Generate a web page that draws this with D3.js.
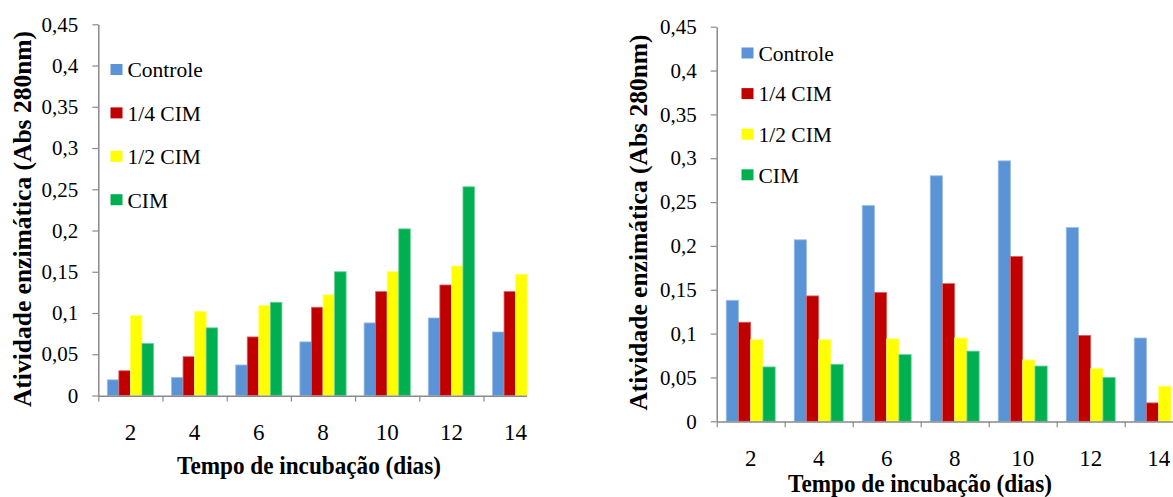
<!DOCTYPE html>
<html>
<head>
<meta charset="utf-8">
<script src="https://cdn.jsdelivr.net/npm/d3@7"></script>
<style>
  html, body { margin: 0; padding: 0; background: #fff; }
  svg { display: block; }
  svg text { font-family: "Liberation Serif", Tinos, "Times New Roman", Times, "DejaVu Serif", "Noto Serif", serif !important; fill: #000; }
</style>
</head>
<body>
<svg id="chart" width="1173" height="497"></svg>
<script>
// ---- Data ----
const categories = ["2", "4", "6", "8", "10", "12", "14"];
const seriesNames = ["Controle", "1/4 CIM", "1/2 CIM", "CIM"];
const seriesColors = ["#5B94D6", "#C00000", "#FFFF00", "#00B050"];
const yTickValues = [0, 0.05, 0.1, 0.15, 0.2, 0.25, 0.3, 0.35, 0.4, 0.45];

// Left chart
const leftControle = [0.019, 0.022, 0.037, 0.065, 0.088, 0.094, 0.077];
const leftQuarter  = [0.030, 0.047, 0.071, 0.107, 0.126, 0.134, 0.126];
const leftHalf     = [0.097, 0.102, 0.109, 0.122, 0.150, 0.157, 0.147];
const leftCIM      = [0.063, 0.082, 0.113, 0.150, 0.202, 0.253, null];

// Right chart
const rightControle = [0.138, 0.207, 0.246, 0.280, 0.297, 0.221, 0.095];
const rightQuarter  = [0.113, 0.143, 0.147, 0.157, 0.188, 0.098, 0.021];
const rightHalf     = [0.093, 0.093, 0.094, 0.095, 0.070, 0.060, 0.040];
const rightCIM      = [0.062, 0.065, 0.076, 0.080, 0.063, 0.050, null];

const xTitle = "Tempo de incubação (dias)";
const yTitle = "Atividade enzimática (Abs 280nm)";

// ---- Drawing ----
const FONT = '"Liberation Serif", Tinos, "Times New Roman", Times, "DejaVu Serif", serif';
const svg = d3.select("#chart");
const locale = d3.formatLocale({decimal: ",", thousands: ".", grouping: [3], currency: ["", ""]});
const fmt = locale.format(".2~f");
const axisColor = "#8a8a8a";

function drawPanel(id, cfg, series) {
  const g = svg.append("g").attr("class", "panel-" + id).attr("font-family", FONT);
  const plotLeft = cfg.plotLeft, step = cfg.step;
  const plotRight = plotLeft + step * categories.length;

  const x = d3.scaleBand().domain(categories).range([plotLeft, plotRight]).padding(0);
  const pad = step * 0.14;
  const x1 = d3.scaleBand().domain(seriesNames).range([pad, step - pad]).padding(0);
  const y = d3.scaleLinear().domain([0, 0.45]).range([cfg.yBottom, cfg.yTop]);
  const color = d3.scaleOrdinal().domain(seriesNames).range(seriesColors);

  const clipId = "clip-" + id;
  svg.append("clipPath").attr("id", clipId)
    .append("rect").attr("x", plotLeft - 2).attr("y", 0)
    .attr("width", cfg.clipRight - plotLeft + 2).attr("height", 497);

  // bars
  const rows = [];
  categories.forEach((c, i) => {
    seriesNames.forEach((s, j) => {
      const v = series[j][i];
      if (v != null) rows.push({cat: c, name: s, value: v});
    });
  });
  g.append("g").attr("clip-path", `url(#${clipId})`)
    .selectAll("rect").data(rows).join("rect")
    .attr("x", d => x(d.cat) + x1(d.name))
    .attr("y", d => y(d.value))
    .attr("width", x1.bandwidth())
    .attr("height", d => y(0) - y(d.value))
    .attr("fill", d => color(d.name))
    .attr("stroke", d => d3.interpolateRgb(color(d.name), "#ffffff")(0.4))
    .attr("stroke-width", 0.8);

  // y axis
  const yAxis = g.append("g")
    .attr("transform", `translate(${plotLeft},0)`)
    .call(d3.axisLeft(y).tickValues(yTickValues).tickFormat(fmt)
      .tickSize(6).tickSizeOuter(0).tickPadding(14));
  yAxis.attr("font-family", FONT);
  yAxis.select(".domain").attr("stroke", axisColor).attr("stroke-width", 1.5);
  yAxis.selectAll(".tick line").attr("stroke", axisColor).attr("stroke-width", 1.2);
  yAxis.selectAll(".tick text").attr("font-size", 21).attr("fill", "#000");

  // x axis: ticks at category boundaries
  const xb = d3.scaleLinear().domain([0, categories.length]).range([plotLeft, plotRight]);
  const xAxis = g.append("g").attr("clip-path", `url(#${clipId})`)
    .attr("transform", `translate(0,${cfg.yBottom})`)
    .call(d3.axisBottom(xb).tickValues(d3.range(categories.length + 1))
      .tickFormat("").tickSize(6).tickSizeOuter(0));
  xAxis.select(".domain").attr("stroke", axisColor).attr("stroke-width", 1.8);
  xAxis.selectAll(".tick line").attr("stroke", axisColor).attr("stroke-width", 1.2);

  // x category labels
  const xl = g.append("g")
    .attr("transform", `translate(0,${cfg.xLabelY})`)
    .call(d3.axisBottom(x).tickSize(0).tickPadding(0));
  xl.attr("font-family", FONT);
  xl.select(".domain").remove();
  xl.selectAll(".tick text").attr("font-size", 23).attr("fill", "#000").attr("dy", 0);

  // titles
  g.append("text")
    .attr("transform", `translate(${cfg.xTitleX},${cfg.xTitleY}) scale(0.91,1)`)
    .attr("text-anchor", "middle").attr("font-weight", "bold").attr("font-size", 25.5)
    .text(xTitle);
  g.append("text")
    .attr("transform", `translate(${cfg.yTitleX},${cfg.yTitleY}) rotate(-90)`)
    .attr("text-anchor", "middle").attr("font-weight", "bold").attr("font-size", 25.5)
    .text(yTitle);

  // legend
  const lg = g.append("g").attr("transform", `translate(${cfg.legendX},${cfg.legendY})`);
  const item = lg.selectAll("g").data(seriesNames).join("g")
    .attr("transform", (d, i) => `translate(0,${i * cfg.legendStep})`);
  item.append("rect").attr("x", 0).attr("y", -6).attr("width", 12).attr("height", 11)
    .attr("fill", d => color(d));
  item.append("text").attr("x", 17).attr("y", 0).attr("dy", "0.34em")
    .attr("font-size", 21.5).text(d => d);
}

drawPanel("left", {
  plotLeft: 98.3, step: 64.2, yBottom: 395.5, yTop: 24.3, clipRight: 527,
  xLabelY: 440, xTitleX: 309, xTitleY: 474, yTitleX: 31, yTitleY: 219,
  legendX: 110.5, legendY: 70, legendStep: 43.4
}, [leftControle, leftQuarter, leftHalf, leftCIM]);

drawPanel("right", {
  plotLeft: 716.7, step: 68, yBottom: 421.3, yTop: 26.7, clipRight: 1173,
  xLabelY: 465.5, xTitleX: 920, xTitleY: 492, yTitleX: 647, yTitleY: 222.5,
  legendX: 741.5, legendY: 53.5, legendStep: 40.6
}, [rightControle, rightQuarter, rightHalf, rightCIM]);
</script>
</body>
</html>
